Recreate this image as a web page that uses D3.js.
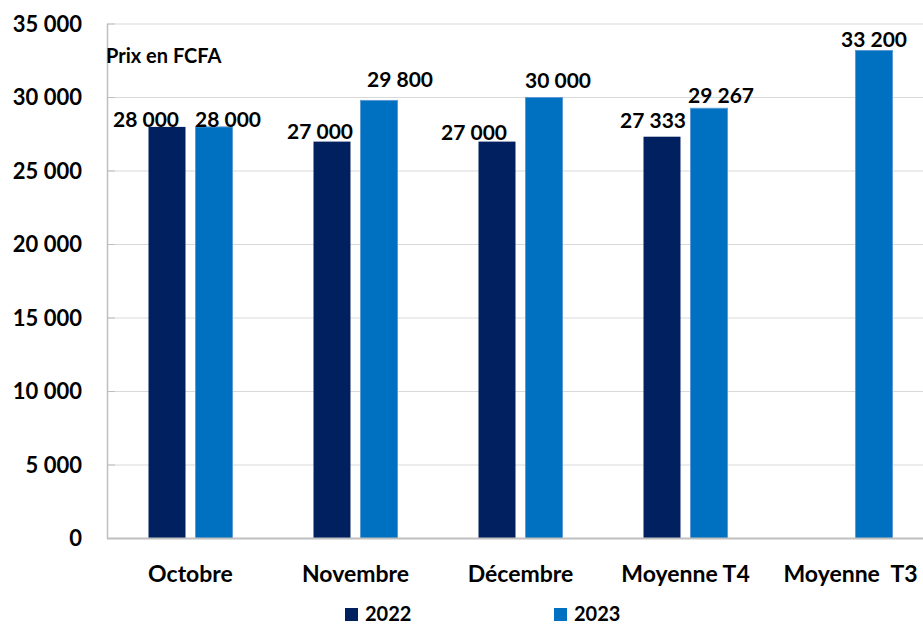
<!DOCTYPE html>
<html lang="fr">
<head>
  <meta charset="UTF-8">
  <title>Prix en FCFA</title>
  <style>
  body { margin: 0; background: #fff; }
  text { font-family: Lato, "Open Sans", sans-serif; font-weight: bold; fill: #000; }
  .grid line { stroke: #d9d9d9; stroke-width: 1; }
  </style>
</head>
<body>
  <script src="https://d3js.org/d3.v7.min.js"></script>
  <script>

    var categories = ["Octobre", "Novembre", "Décembre", "Moyenne T4", "Moyenne  T3"];
    var series = ["2022", "2023"];
    var values2022 = [28000, 27000, 27000, 27333, null];
    var values2023 = [28000, 29800, 30000, 29267, 33200];
    var yTicks = [0, 5000, 10000, 15000, 20000, 25000, 30000, 35000];

    var colors = { "2022": "#002060", "2023": "#0070c0" };
    // manual nudges of the value labels [dx, dy], as in the original
    var nudge2022 = [[-21, 0], [-12, -3], [-23, -2], [-9, -9], [0, 0]];
    var nudge2023 = [[14, 0], [21, -13], [14, -10], [12, -5], [0, -3]];

    var width = 923, height = 624;
    var svg = d3.select("body").append("svg")
        .attr("width", width)
        .attr("height", height);

    var fr = d3.formatLocale({ decimal: ",", thousands: " ", grouping: [3], currency: ["", ""] });
    var fmt = fr.format(",.0f");

    var x = d3.scaleBand().domain(categories).range([108, 933]);
    var xs = d3.scaleBand().domain(series).range([-42, 42]).paddingInner(0.213);
    var y = d3.scaleLinear().domain([0, 35000]).range([538.5, 24]);

    // gridlines
    svg.append("g").attr("class", "grid")
      .selectAll("line")
      .data(yTicks.slice(1))
      .enter().append("line")
        .attr("x1", 107).attr("x2", width)
        .attr("y1", function(d){ return y(d); })
        .attr("y2", function(d){ return y(d); });

    // little ticks on the axis
    svg.append("g")
      .selectAll("line")
      .data(yTicks.slice(1))
      .enter().append("line")
        .attr("x1", 107).attr("x2", 115)
        .attr("y1", function(d){ return y(d); })
        .attr("y2", function(d){ return y(d); })
        .attr("stroke", "#bfbfbf");

    // y axis line
    svg.append("line")
      .attr("x1", 107.5).attr("x2", 107.5)
      .attr("y1", y(35000)).attr("y2", y(0))
      .attr("stroke", "#bfbfbf").attr("stroke-width", 1.5);

    svg.append("g")
      .selectAll("text")
      .data(yTicks)
      .enter().append("text")
        .attr("x", 82)
        .attr("y", function(d){ return y(d); })
        .attr("dy", "0.36em")
        .attr("text-anchor", "end")
        .style("font-size", "22px")
        .text(function(d){ return fmt(d); });

    var rows = [];
    categories.forEach(function(c, i){
      rows.push({ cat: c, s: "2022", v: values2022[i], n: nudge2022[i] });
      rows.push({ cat: c, s: "2023", v: values2023[i], n: nudge2023[i] });
    });
    rows = rows.filter(function(d){ return d.v != null; });

    function cx(d){ return x(d.cat) + x.bandwidth() / 2 + xs(d.s); }

    svg.append("g")
      .selectAll("rect")
      .data(rows)
      .enter().append("rect")
        .attr("x", function(d){ return cx(d); })
        .attr("y", function(d){ return y(d.v); })
        .attr("width", xs.bandwidth())
        .attr("height", function(d){ return y(0) - y(d.v); })
        .attr("fill", function(d){ return colors[d.s]; })
        .attr("stroke", function(d){ return d.s == "2023" ? "#5b9bd5" : "none"; })
        .attr("stroke-width", 1);

    // zero line
    svg.append("line")
      .attr("x1", 107).attr("x2", width)
      .attr("y1", y(0)).attr("y2", y(0))
      .attr("stroke", "#bfbfbf").attr("stroke-width", 2);

    svg.append("g")
      .selectAll("text")
      .data(rows)
      .enter().append("text")
        .attr("x", function(d){ return cx(d) + xs.bandwidth() / 2 + d.n[0]; })
        .attr("y", function(d){ return y(d.v) + d.n[1]; })
        .attr("text-anchor", "middle")
        .style("font-size", "21px")
        .text(function(d){ return fmt(d.v); });

    svg.append("g")
      .selectAll("text")
      .data(categories)
      .enter().append("text")
        .attr("x", function(d){ return x(d) + x.bandwidth() / 2; })
        .attr("y", 582)
        .attr("text-anchor", "middle")
        .style("font-size", "23px")
        .style("white-space", "pre")
        .text(function(d){ return d; });

    svg.append("text")
      .attr("x", 106).attr("y", 63)
      .style("font-size", "20px")
      .text("Prix en FCFA");

    // legend
    var legX = [345, 554];
    var leg = svg.append("g")
      .selectAll("g")
      .data(series)
      .enter().append("g")
        .attr("transform", function(d, i){ return "translate(" + legX[i] + ",608)"; });
    leg.append("rect")
      .attr("width", 13).attr("height", 13)
      .attr("fill", function(d){ return colors[d]; });
    leg.append("text")
      .attr("x", 20).attr("y", 13)
      .style("font-size", "20px")
      .text(function(d){ return d; });
  </script>
</body>
</html>
